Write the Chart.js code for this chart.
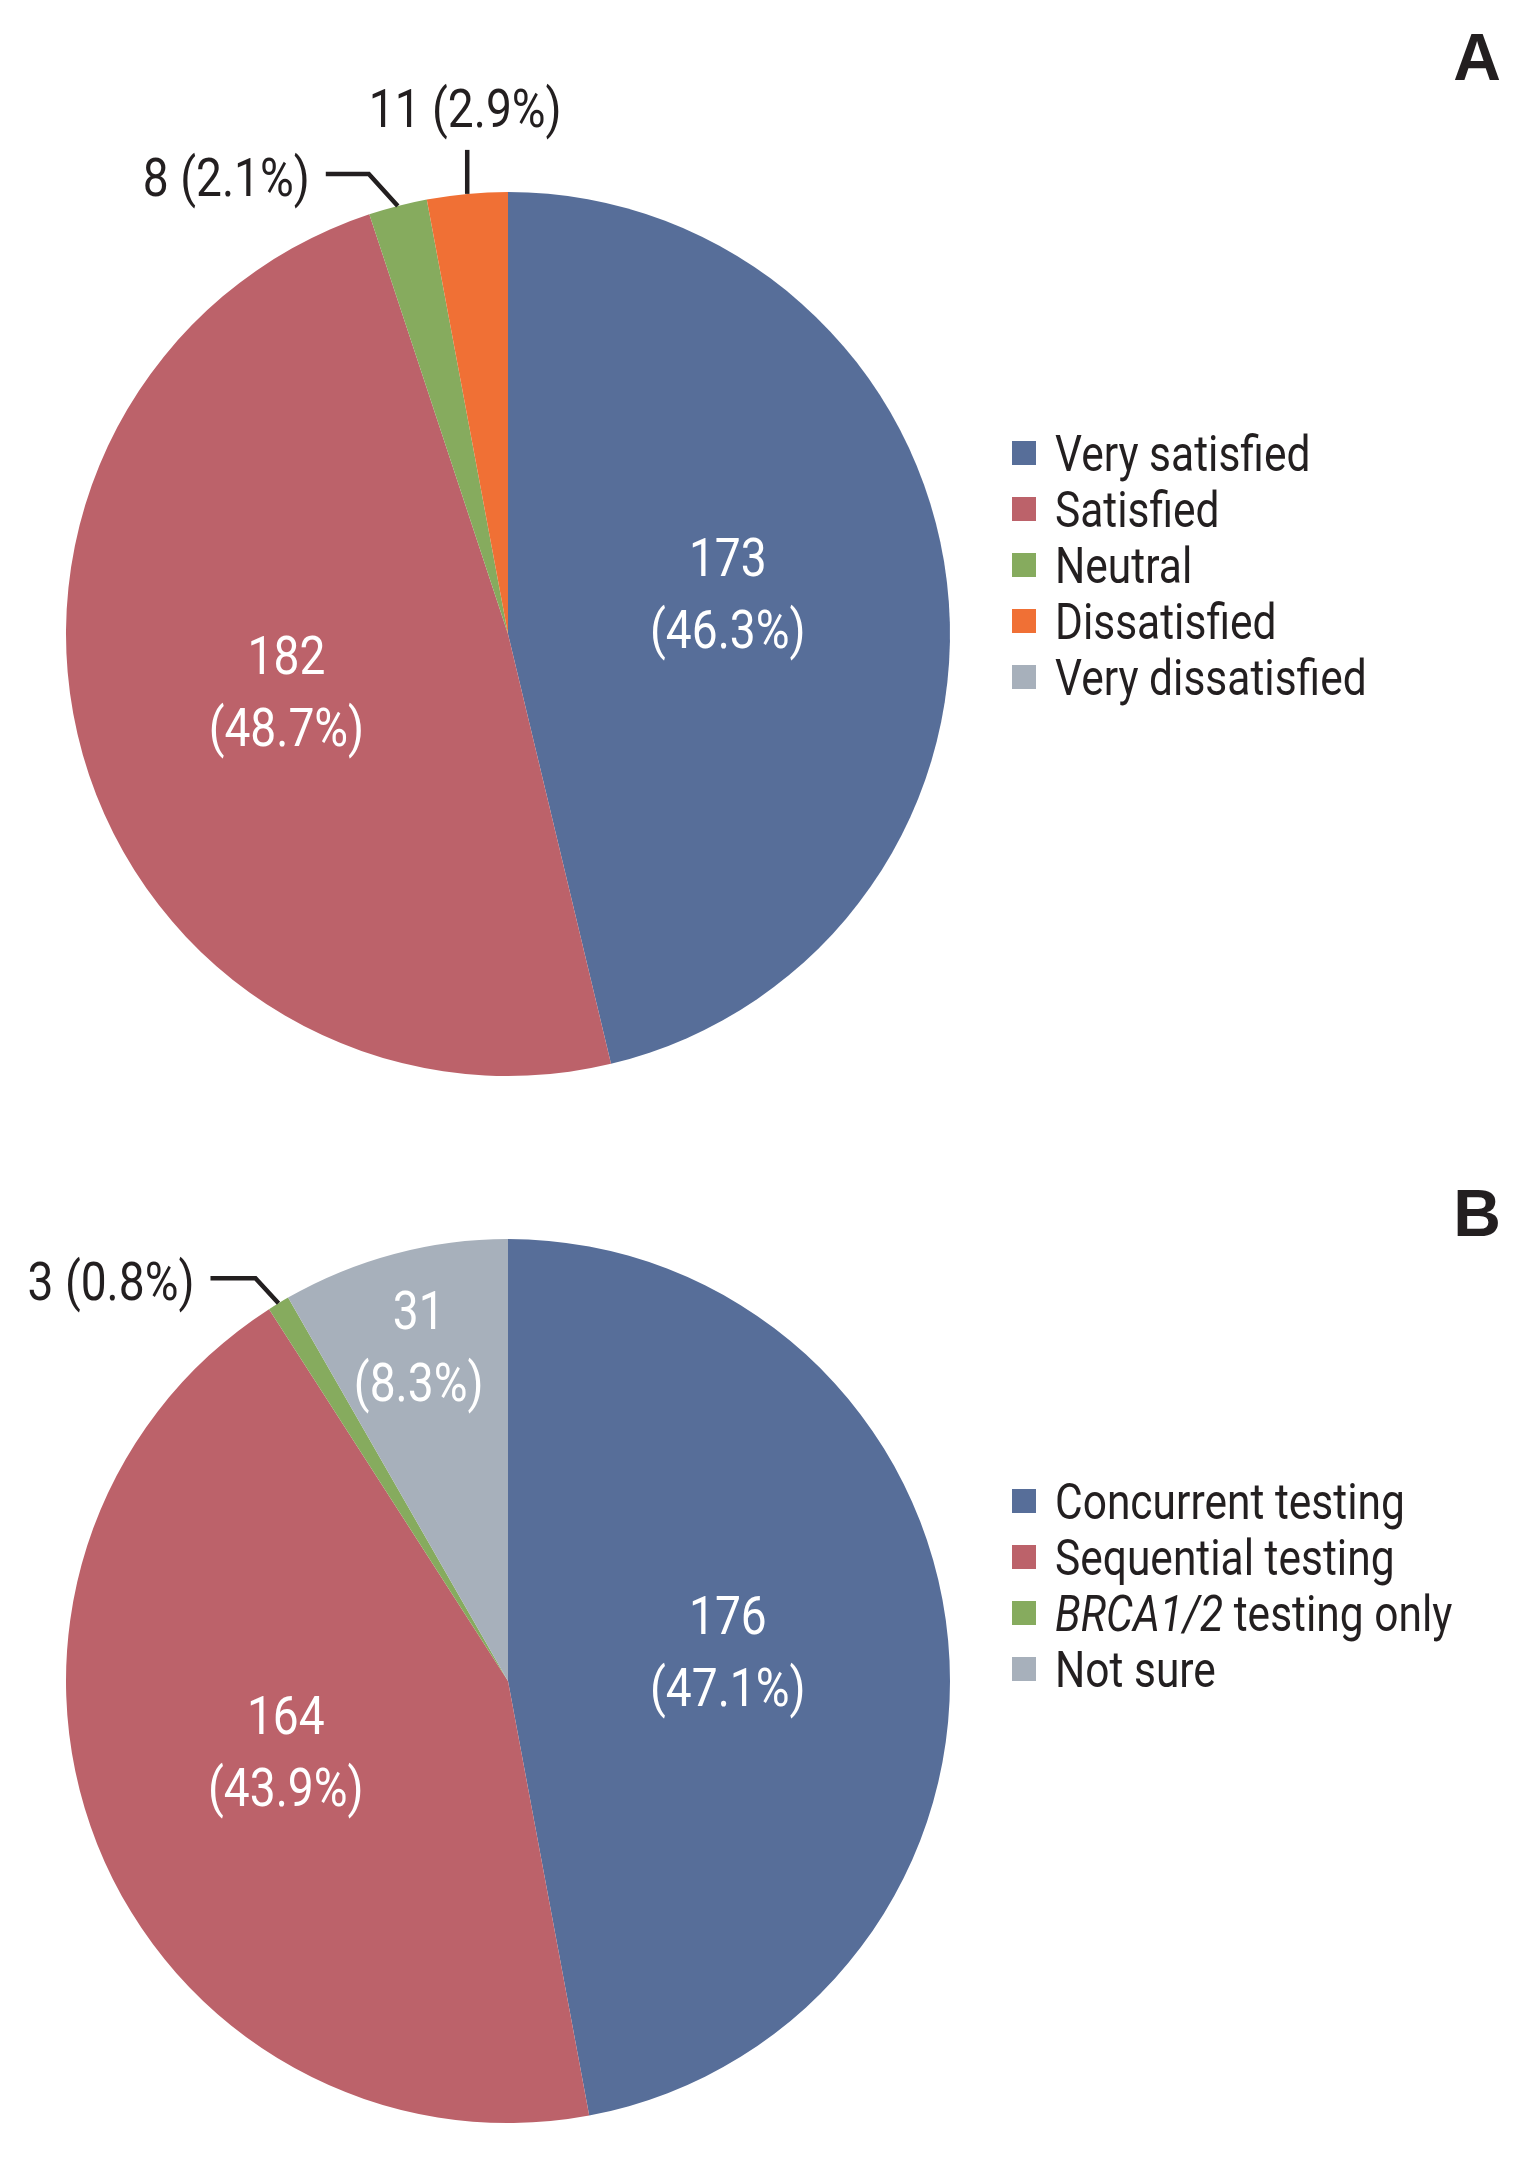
<!DOCTYPE html>
<html>
<head>
<meta charset="utf-8">
<script src="https://cdn.jsdelivr.net/npm/chart.js@4.4.1/dist/chart.umd.min.js"></script>
<style>
  body { margin: 0; background: #fff; }
  canvas { display: block; }
</style>
</head>
<body>
<canvas id="chartA" width="1530" height="1079"></canvas>
<canvas id="chartB" width="1530" height="1079"></canvas>
<script>
// Panel A - satisfaction
const satisfactionLabels = ['Very satisfied', 'Satisfied', 'Neutral', 'Dissatisfied', 'Very dissatisfied'];
const satisfactionCounts = [173, 182, 8, 11, 0];
const satisfactionColors = ['#576e99', '#bc626a', '#86ab5e', '#f07035', '#a7b0bb'];

// Panel B - testing preference
const preferenceLabels = ['Concurrent testing', 'Sequential testing', 'BRCA1/2 testing only', 'Not sure'];
const preferenceCounts = [176, 164, 3, 31];
const preferenceColors = ['#576e99', '#bc626a', '#86ab5e', '#a7b0bb'];

const FONT = "Roboto, 'Liberation Sans', sans-serif";
const INK = '#231f20';

function pctText(v, total) {
    return (v / total * 100).toFixed(1) + '%';
}

// condensed text, y = middle of capitals; returns drawn width
function narrowText(ctx, text, x, y, align, size, squeeze, style) {
    ctx.font = `${style || ''} ${size}px ${FONT}`;
    const w = ctx.measureText(text).width * squeeze;
    let left = x;
    if (align === 'center') left = x - w / 2;
    if (align === 'right') left = x - w;
    ctx.save();
    ctx.translate(left, y + size * 0.355);
    ctx.scale(squeeze, 1);
    ctx.textAlign = 'left';
    ctx.textBaseline = 'alphabetic';
    ctx.fillText(text, 0, 0);
    ctx.restore();
    return w;
}

// draws slice labels, leaders, legend and panel letter
const annotatePlugin = {
    id: 'annotate',
    afterDraw(chart, args, opts) {
        const ctx = chart.ctx;
        const meta = chart.getDatasetMeta(0);
        const data = chart.data.datasets[0].data;
        const total = data.reduce((a, b) => a + b, 0);
        const specs = opts.sliceLabels;

        ctx.save();
        for (let i = 0; i < data.length; i++) {
            const spec = specs[i];
            if (!data[i] || !spec || !spec.type) continue;
            const arc = meta.data[i];
            const mid = (arc.startAngle + arc.endAngle) / 2;
            const R = arc.outerRadius;
            if (spec.type === 'inside') {
                const a = mid + spec.shift * Math.PI / 180;
                const x = arc.x + Math.cos(a) * R * spec.f;
                const y = arc.y + Math.sin(a) * R * spec.f;
                ctx.fillStyle = '#fff';
                narrowText(ctx, String(data[i]), x, y - 36, 'center', 53, 0.87);
                narrowText(ctx, '(' + pctText(data[i], total) + ')', x, y + 36, 'center', 53, 0.87);
            } else {
                const ex = arc.x + Math.cos(mid) * R;
                const ey = arc.y + Math.sin(mid) * R;
                const label = data[i] + ' (' + pctText(data[i], total) + ')';
                ctx.strokeStyle = INK;
                ctx.lineWidth = 4.5;
                ctx.fillStyle = INK;
                ctx.beginPath();
                ctx.moveTo(ex, ey);
                if (spec.type === 'up') {
                    ctx.lineTo(ex, ey - spec.len);
                    ctx.stroke();
                    narrowText(ctx, label, ex - 2, ey - spec.len - 42, 'center', 53, 0.87);
                } else {
                    const bx = ex + spec.dx, by = ey + spec.dy;
                    ctx.lineTo(bx, by);
                    ctx.lineTo(bx - spec.len, by);
                    ctx.stroke();
                    narrowText(ctx, label, bx - spec.len - 16, by + 3, 'right', 53, 0.87);
                }
            }
        }

        // legend
        const lg = opts.legend;
        chart.data.labels.forEach((lab, i) => {
            const cy = lg.y + i * 56;
            ctx.fillStyle = chart.data.datasets[0].backgroundColor[i];
            ctx.fillRect(lg.x, cy - 12, 24, 24);
            ctx.fillStyle = INK;
            let tx = lg.x + 43;
            const m = lab.match(/^(BRCA1\/2)(.*)$/);
            if (m) {
                tx += narrowText(ctx, m[1], tx, cy, 'left', 50, 0.85, 'italic');
                narrowText(ctx, m[2], tx, cy, 'left', 50, 0.85);
            } else {
                narrowText(ctx, lab, tx, cy, 'left', 50, 0.85);
            }
        });

        // panel letter
        ctx.font = "bold 66px 'Liberation Sans', sans-serif";
        ctx.textAlign = 'center';
        ctx.textBaseline = 'middle';
        ctx.fillStyle = INK;
        ctx.fillText(opts.letter, 1477, opts.letterY);
        ctx.restore();
    }
};

function makePie(id, labels, counts, colors, padding, plugOpts) {
    return new Chart(document.getElementById(id), {
        type: 'pie',
        data: {
            labels: labels,
            datasets: [{
                data: counts,
                backgroundColor: colors,
                borderWidth: 0
            }]
        },
        options: {
            responsive: false,
            animation: false,
            radius: 442,
            layout: { padding: padding },
            plugins: {
                legend: { display: false },
                tooltip: { enabled: false },
                annotate: plugOpts
            }
        },
        plugins: [annotatePlugin]
    });
}

makePie('chartA', satisfactionLabels, satisfactionCounts, satisfactionColors,
    { left: 65, right: 579, top: 191, bottom: 2 },
    {
        letter: 'A', letterY: 62,
        legend: { x: 1012, y: 453 },
        sliceLabels: [
            { type: 'inside', f: 0.506, shift: -3.9 },
            { type: 'inside', f: 0.518, shift: 1.3 },
            { type: 'leader', dx: -29, dy: -32, len: 43 },
            { type: 'up', len: 44 },
            { type: '' }
        ]
    });

makePie('chartB', preferenceLabels, preferenceCounts, preferenceColors,
    { left: 65, right: 579, top: 159, bottom: 34 },
    {
        letter: 'B', letterY: 139,
        legend: { x: 1012, y: 422 },
        sliceLabels: [
            { type: 'inside', f: 0.502, shift: -2.5 },
            { type: 'inside', f: 0.527, shift: 4.2 },
            { type: 'leader', dx: -23, dy: -25, len: 45 },
            { type: 'inside', f: 0.785, shift: 0 }
        ]
    });
</script>
</body>
</html>
